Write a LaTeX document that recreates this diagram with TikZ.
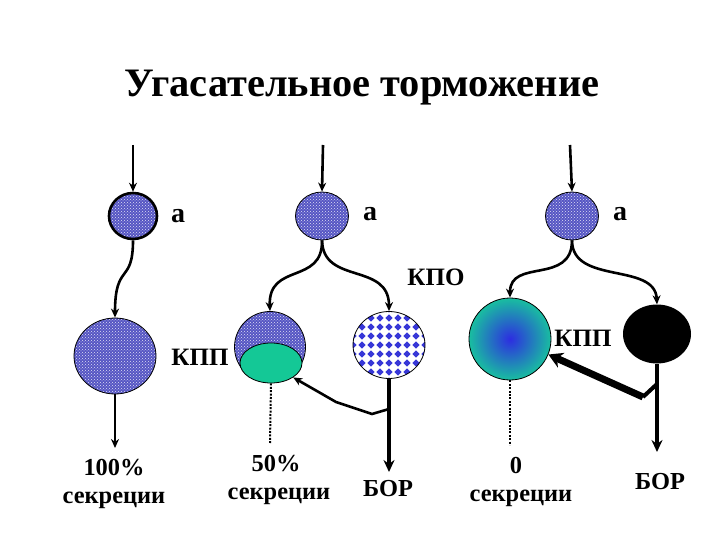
\documentclass[tikz,border=0pt]{standalone}
\usepackage{fontspec}
\setmainfont{Liberation Serif}
\usetikzlibrary{shapes.geometric,patterns,arrows.meta}
\definecolor{chk}{RGB}{85,85,195}
\definecolor{chkdot}{RGB}{225,225,245}
\definecolor{dia}{RGB}{55,55,215}
\definecolor{grn}{RGB}{20,200,150}
\definecolor{gblue}{RGB}{45,45,225}
\definecolor{gteal}{RGB}{25,190,160}
\begin{document}
\begin{tikzpicture}[x=1pt,y=-1pt,
  chkcell/.style={ellipse,draw=black,line width=0.8pt,inner sep=0pt,
    preaction={fill=chk},pattern=crosshatch dots,pattern color=chkdot},
  diacell/.style={ellipse,draw=black,line width=0.8pt,inner sep=0pt,fill=white,
    path picture={\foreach \i in {-5,...,5}{\foreach \j in {-5,...,5}{
      \fill[dia] ([shift={(\i*9pt,\j*9pt)}]path picture bounding box.center)
        +(0pt,3.6pt) -- +(3.6pt,0pt) -- +(0pt,-3.6pt) -- +(-3.6pt,0pt) -- cycle;}}}},
  conn/.style={line width=2.6pt,-{Stealth[length=9pt,width=8pt]}},
  thickarr/.style={line width=4pt,-{Stealth[length=12pt,width=11pt]}},
  dotline/.style={line width=2pt,dash pattern=on 2pt off 1.4pt},
  lbl/.style={font=\fontsize{25}{27}\selectfont\bfseries,inner sep=0pt},
  albl/.style={font=\fontsize{28}{30}\selectfont\bfseries,inner sep=0pt},
  btxt/.style={font=\fontsize{24.4}{28}\selectfont\bfseries,align=center,inner sep=0pt}]
\useasboundingbox (0,0) rectangle (720,540);
\fill[white] (0,0) rectangle (720,540);

\node[font=\fontsize{40.4}{44}\selectfont\bfseries] (title) at (362,88) {Угасательное торможение};

% column 1
\coordinate (t1) at (133,145);
\node[chkcell,line width=2.6pt,minimum width=48pt,minimum height=46pt] (a1) at (133,216) {};
\node[albl] (la1) at (178,216) {а};
\node[chkcell,minimum width=82pt,minimum height=76pt] (k1) at (115,356) {};
\node[lbl] (lk1) at (200,357) {КПП};
\coordinate (o1) at (115,448);
\node[btxt] (s1) at (114,484) {100\%\\секреции};
\draw[conn] (t1) -- (a1.north);
\draw[conn] (a1.south) .. controls (133,285) and (115,262) .. (k1.north);
\draw[line width=2.6pt,-{Stealth[length=9pt,width=8pt]}] (k1.south) -- (o1);

% column 2
\coordinate (t2) at (323,145);
\node[chkcell,minimum width=53pt,minimum height=48pt] (a2) at (322,216) {};
\node[albl] (la2) at (370,214) {а};
\node[chkcell,minimum width=71pt,minimum height=71pt] (k2) at (270,347) {};
\node[ellipse,draw=black,line width=0.8pt,fill=grn,minimum width=62pt,minimum height=40pt,inner sep=0pt] (e2) at (271,363) {};
\node[diacell,minimum width=72pt,minimum height=67pt] (d2) at (389,345) {};
\node[lbl] (lkpo) at (436,277) {КПО};
\coordinate (o2) at (270,443);
\coordinate (b2) at (389,472);
\coordinate (f2) at (389,409);
\coordinate (f2a) at (372,414);
\coordinate (f2b) at (336,402);
\node[btxt] (s2) at (276,480) {50\%\\\hspace*{6pt}секреции};
\node[btxt] (bor2) at (388,489) {БОР};
\draw[conn] (t2) -- (a2.north);
\draw[conn] (a2.south) .. controls (323,285) and (268,262) .. (k2.north);
\draw[conn] (a2.south) .. controls (323,285) and (389,262) .. (d2.north);
\draw[dotline] (e2.south) -- (o2);
\draw[thickarr] (d2.south) -- (b2);
\draw[line width=2.6pt,-{Stealth[length=9pt,width=8pt]}] (f2) -- (f2a) -- (f2b) -- (e2.south east);

% column 3
\coordinate (t3) at (570,145);
\node[chkcell,minimum width=53pt,minimum height=48pt] (a3) at (572,216) {};
\node[albl] (la3) at (620,214) {а};
\node[circle,draw=black,line width=0.8pt,shading=radial,inner color=gblue,outer color=gteal,minimum size=82pt,inner sep=0pt] (g3) at (510,339) {};
\node[ellipse,fill=black,minimum width=68pt,minimum height=59pt,inner sep=0pt] (b3) at (657,334) {};
\node[lbl] (lk3) at (583,338) {КПП};
\coordinate (o3) at (510,445);
\coordinate (r3) at (657,452);
\coordinate (f3) at (657,384);
\coordinate (f3a) at (643,397);
\node[btxt] (s3) at (516,482) {0\\\hspace*{10pt}секреции};
\node[btxt] (bor3) at (660,482) {БОР};
\draw[conn] (t3) -- (a3.north);
\draw[conn] (a3.south) .. controls (572,285) and (510,258) .. (g3.north);
\draw[conn] (a3.south) .. controls (572,285) and (655,262) .. (b3.north);
\draw[dotline] (g3.south) -- (o3);
\draw[thickarr] (b3.south) -- (r3);
\draw[line width=4pt] (f3) -- (f3a);
\draw[line width=7pt,-{Stealth[length=14pt,width=16pt]}] (f3a) -- (g3.-22);
\end{tikzpicture}
\end{document}
